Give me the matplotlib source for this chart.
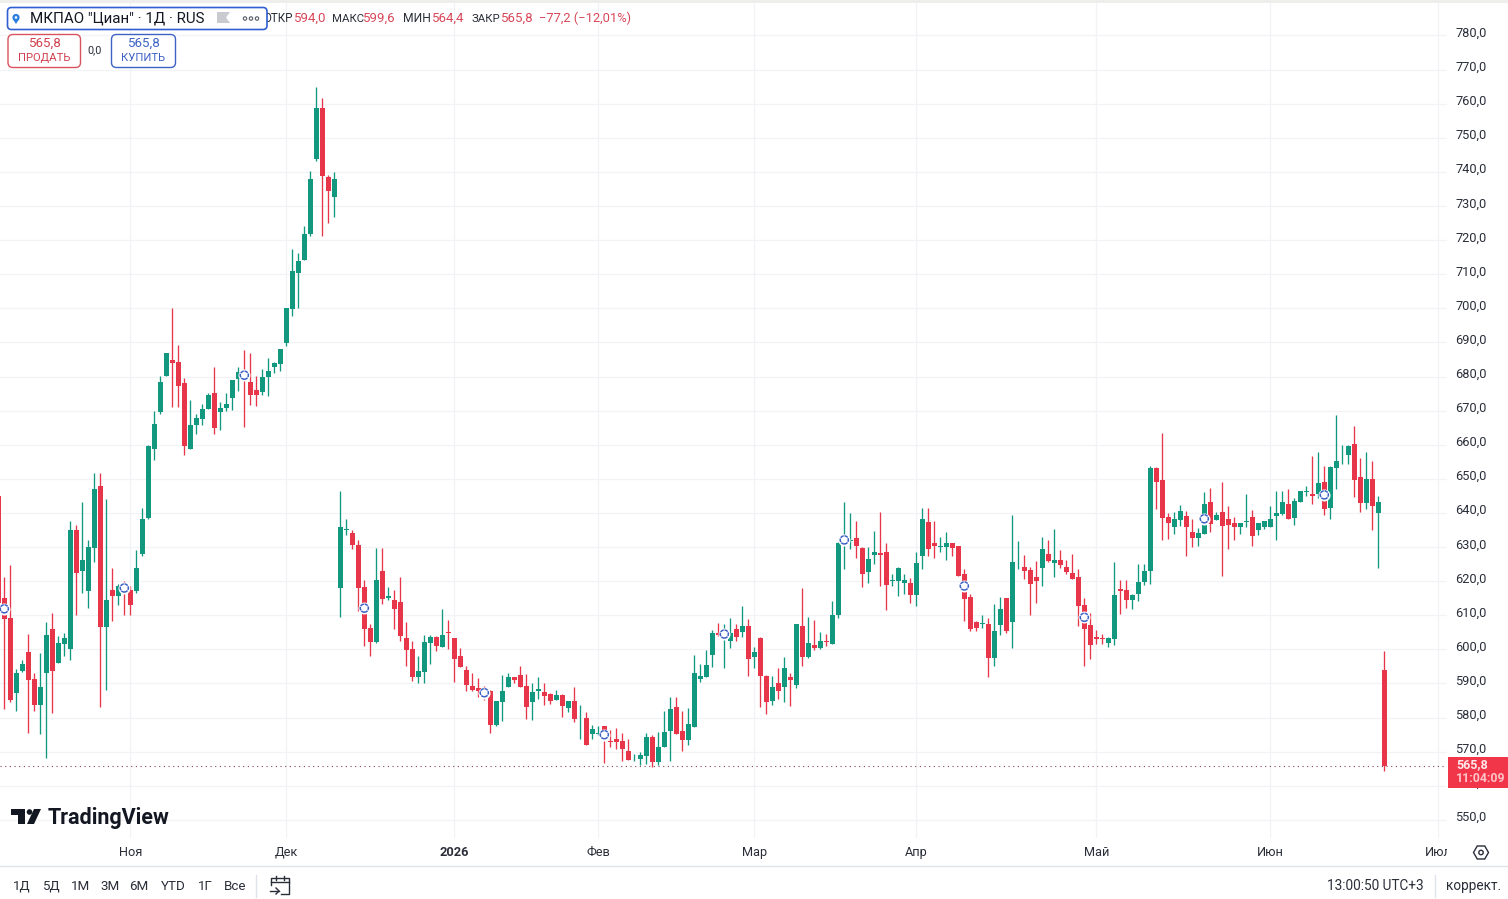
import matplotlib
matplotlib.use("Agg")
import matplotlib.pyplot as plt
from matplotlib.patches import FancyBboxPatch, Rectangle, Polygon, Circle, RegularPolygon
from matplotlib.transforms import ScaledTranslation

plt.rcParams['font.family'] = ['Roboto', 'DejaVu Sans']

# daily candles
opens = [645,615.2,609.1,587.2,593.8,599.1,591.2,583.6,593.2,606.1,
    595.9,601.7,600,634.9,622.9,617,629.6,647.8,606.7,617.3,
    615.8,618.5,617.3,617,628.1,638.4,658.9,669.7,680.2,684.9,
    684.3,678.2,658.8,665.9,667.6,670.5,675.2,669.7,670.8,673.8,
    679.3,680.5,678.5,676.1,675.5,679.9,682.9,683.7,689.9,699.8,
    710.4,714.2,721.8,743.8,758.7,738.5,732.7,618.1,635.1,634.2,
    630.7,618.4,606.4,602.2,623.1,615.1,614.6,614,603.2,600,
    591.8,593.5,602,603.5,600.8,605.2,603.2,598.2,594.1,589.4,
    588.8,587.5,587.9,577.7,584.7,589.1,592,592.6,589.4,584.7,
    587.7,587.4,586.8,585.3,586.5,582.7,585,579.8,580,575.1,
    575.2,577.4,573.1,573.7,573.1,570.1,567.8,567.8,568.7,574.2,
    566.9,571.3,576,583,576,573.4,577.2,591.2,591.8,598.5,
    604.9,604,602.6,606.1,605.2,607,597.9,603.4,592.3,584.8,
    590,589.1,592,589.7,607,597.8,601.4,600.4,602.6,601.7,
    610,631.6,631.9,632.6,629.7,622.6,627.6,628.2,628.5,620.1,
    620,619.4,619.4,615.9,627.3,637.3,631.1,630,630,631.1,
    630.2,622.2,615.3,608,607.5,607.4,597.5,607.1,615,608,
    625.5,624.1,623.2,621.2,623.8,627.9,625.3,626.1,624.1,622.3,
    621.2,613,607.1,603.6,603.4,601.9,603,617.7,617.4,614.4,
    616.2,619.7,622.9,653.1,649.8,638.7,635.8,637.8,639,634.3,
    632.8,633.7,643.1,637.8,640.2,638.1,637.2,635.8,637.3,638.7,
    634.9,635.8,635.8,639,639.6,642.5,638.4,643.1,646.1,645.7,
    645.7,649,641.6,653.1,657.8,656.9,660.1,650.4,642.8,650.1,
    639.9,594]
highs = [645,621.1,624.6,594.3,597,604.4,593.1,598.8,607.9,610.8,
    604,604.7,637.5,636.6,643.1,632.2,651.6,651.6,644,624,
    619.3,620.1,618.7,629,641.6,660,670,680.2,687,700.1,
    689.3,679.6,673.2,669,672,675.2,682.9,672.6,675.2,679,
    682.9,687.8,687,680.2,682.3,685.5,684.3,688.1,700.1,717.4,
    716.3,724.2,740.3,764.9,761.7,739.1,740,646.5,638.3,635,
    632.1,620.2,607.5,629.8,629.8,618.3,617.5,621.1,607.9,602.6,
    598.2,604.1,604.1,603.8,611.7,608.7,603.2,600.5,595,593.2,
    591.5,589.4,588.2,585,592.6,593.2,592,595,592.9,590,
    591.8,590,587.1,588,586.8,585,589.1,583.6,581.5,577.7,
    577.4,577.4,576.3,576.9,575.4,573.7,569.3,569.9,575.4,574.8,
    575.7,581.8,585.9,585.9,581.8,582.7,598.5,595.6,599.9,605.8,
    607.8,607.5,609.3,607.5,612.8,609,600.8,603.7,592.6,592.3,
    594.4,597.9,593.2,607.5,618,609.6,608.7,605.2,604.6,614.3,
    631.4,643.1,639.9,637.6,630,630,634.6,640.2,631.1,622,
    624.1,622,620.9,628.5,641.4,641.4,637.6,632.9,634.3,631.1,
    630.2,623.5,616.2,608.3,610,609.2,613.3,615.3,615,639.3,
    631.7,627.6,624.1,625.9,632.9,632,635.2,629.1,626.1,627.9,
    623.5,615,610.6,605.7,604.5,603.6,625.6,620.3,620.3,616.2,
    625,625,653.9,653.4,663.3,639.9,640.4,642.2,640.7,638.1,
    635.5,646,647.2,640.2,649.2,641.9,638.7,637.2,645.7,641,
    637.2,637.5,641.9,646.3,646.3,646.9,644.3,646.3,647.8,656.6,
    657.8,653.9,653.9,668.6,659.8,659.8,665.4,656,658,655.1,
    645.1,599.6]
lows = [613.5,582.5,584.5,581.9,593.3,575.4,581.9,575.2,568.2,581.3,
    595.9,598.2,597,610.2,616.5,612,625.5,583,588,608.2,
    612.9,610.2,610.2,616.5,627.3,638.2,655.6,668.9,680.2,671.2,
    671.2,657,658.8,663.2,665.9,670.5,663.2,664.4,669.8,670.3,
    675.8,665.3,671.7,671.4,674.6,674.4,681.1,681.7,689,697.8,
    700.1,714.2,721.2,743.2,721.2,725,726.8,609.4,633.4,629.3,
    611.2,601.1,598.2,602,613.4,614.5,606.1,602.6,595,590.6,
    590,590,595.6,599.4,600.8,600,590.3,594.7,587.9,587.9,
    586,585.3,575.6,577.4,578.9,589.1,590,589.1,579.7,579.2,
    585.6,583.8,584.1,585.3,580.3,581.5,578.6,573.6,572.1,573.6,
    574.8,566.7,571.3,570.7,567.2,567.5,567.2,566.1,566.3,565.5,
    566.1,571.3,567.2,575.1,570.1,571.9,577.2,590.3,591.8,594.7,
    603.8,594.4,600.5,602.6,603.7,592.3,594.4,583,581,583.6,
    585.6,584.5,583.3,588.8,595,597.6,599.9,600.2,601,601.7,
    609.2,623.5,629.4,626.7,618.2,619.4,625,618.5,611.5,618.5,
    615.6,616.2,613.6,612.7,623.5,627.3,626.7,628.5,626.1,627.3,
    621.5,608.3,605.4,605.4,606.2,591.9,595.1,604.2,604.8,600.4,
    623.5,620.6,610,613.6,618.5,625.6,621.2,623.8,622,620.6,
    606.8,595.1,597.2,601.6,601.6,600.7,601.3,610.3,612.1,611.8,
    614.1,618.8,619.3,641.3,632.2,632.5,633.7,636.1,627.3,629.9,
    630.2,633.7,634.3,637.8,621.4,629.3,632.2,633.7,636,630.2,
    633.4,635.2,635.8,632.2,639.3,638.1,636.6,643.1,645,642.5,
    644.3,639.3,638.1,646.9,654.5,654.5,644.6,640.4,641.3,634.9,
    624,564.4]
closes = [613.5,608.8,585.3,593.2,595.6,591,583.6,589.1,604.1,593.8,
    602,603.2,634.9,622.3,626.1,629.9,646.9,606.7,614.6,615.8,
    618.7,617.5,612.9,624,638.1,659.5,666.2,678.5,686.8,684,
    677.3,659.7,665.9,667.9,670.5,674.6,665,670.8,672,679,
    681.4,679.8,674.6,674.6,679.9,681.7,684,688.1,700.1,711,
    713.9,721.8,737.9,758.7,738.8,734.4,737.9,636,635.3,630.7,
    618.1,606.1,602.3,620.2,614.9,615.8,611.7,603.8,599.7,591.8,
    593.8,602.3,603.5,601.1,604.1,604.9,597.3,594.7,589.7,588.2,
    587.7,586.7,577.7,585,587.7,592,590.9,589.1,583,587.4,
    588.5,586.2,585,586.5,583.3,585,579.5,580,572.1,576.6,
    575.4,573,572.9,572.8,570.7,567.5,568,569,574.2,566.9,
    571.3,575.7,582.4,575.1,573.4,578,593.2,592.3,595.3,604.9,
    604.3,604.8,604.9,603.7,607,597.3,599.1,592.1,584.5,589.1,
    587.7,594.4,590.9,607.5,597.9,602,600.4,602.6,602.3,610.2,
    631.1,632.4,632.1,630.2,622,626.4,628.5,627.8,618.8,620.3,
    623.8,620.3,615.9,625.3,638.1,629.4,630.2,630.2,631.1,629.7,
    621.5,614.7,606,606.2,607.7,597.5,605.4,611.8,605.4,625.6,
    625.7,622.9,619.1,620,629.4,625.9,626.1,624.7,622.6,620.6,
    612.7,606,601.3,603,603,603.3,615.9,617.1,614.4,615.9,
    619.7,622.9,653.1,649.2,638.4,637.2,638.1,640.7,635.8,632.8,
    634,642.5,636.9,639.3,636.3,636.6,635.8,637.2,637.5,633.1,
    637.2,637.5,638.1,639.9,643.1,638.1,643.4,646.3,646.3,645.1,
    648.7,641.3,653.4,655.1,658,659.5,649.8,642.8,650.1,641.9,
    643.1,565.8]

# little circles on the session marks
mark_idx = [1, 21, 41, 61, 81, 101, 121, 141, 161, 181, 201, 221]
mark_price = [611.9, 618, 680.4, 612.1, 587.3, 575, 604.5, 632.1, 618.6, 609.4, 638.3, 645.3]

month_idx = [22, 48, 76, 100, 126, 153, 183, 212, 240]
month_labels = ['Ноя', 'Дек', '2026', 'Фев', 'Мар', 'Апр', 'Май', 'Июн', 'Июл']
price_ticks = list(range(550, 790, 10))
last_price = 565.8

GREEN = '#12987e'
RED = '#e7364a'
BLUE = '#3d62c4'
TXT = '#2a2e39'

fig = plt.figure(figsize=(15.08, 8.99), dpi=100, facecolor='white')
ax = fig.add_axes([0, 61 / 899, 1447 / 1508, 838 / 899])

idx = list(range(len(opens)))
cols = [GREEN if c >= o else RED for o, c in zip(opens, closes)]
bott = [min(o, c) for o, c in zip(opens, closes)]
hgts = [abs(c - o) for o, c in zip(opens, closes)]

ax.vlines(idx, lows, highs, colors=cols, linewidth=0.95, zorder=3)
ax.bar(idx, hgts, bottom=bott, width=0.84, color=cols, linewidth=0, zorder=4)
ax.scatter(mark_idx, mark_price, s=75, c='white', linewidths=0, zorder=5)
ax.scatter(mark_idx, mark_price, s=34, facecolors='white', edgecolors=BLUE,
           linewidths=1.1, linestyle=(0, (2.4, 0.5)), zorder=6)
ax.axhline(last_price, color='#84434f', lw=0.8, ls=(0, (1, 3.2)), zorder=2)

ax.set_xlim(0.283, 241.45)
ax.set_ylim(544.7, 790.4)
ax.set_xticks(month_idx, month_labels)
ax.set_yticks(price_ticks, [str(p) + ',0' for p in price_ticks])
ax.yaxis.tick_right()
ax.tick_params(axis='both', length=0, labelsize=9.2, labelcolor=TXT)
ax.tick_params(axis='x', pad=5.5)
ax.tick_params(axis='y', pad=6)
nudge = ScaledTranslation(0, 2.2 / 100, fig.dpi_scale_trans)
for lab in ax.get_yticklabels():
    lab.set_verticalalignment('center')
    lab.set_transform(lab.get_transform() + nudge)
for lab in ax.get_xticklabels():
    if lab.get_text() == '2026':
        lab.set_fontweight('bold')
ax.grid(True, color='#f1f3f7', lw=0.9)
ax.set_axisbelow(True)
for s in ax.spines.values():
    s.set_visible(False)

# everything around the plot, in image pixels
ov = fig.add_axes([0, 0, 1, 1])
ov.set_xlim(0, 1508)
ov.set_ylim(899, 0)
ov.axis('off')
ov.patch.set_alpha(0)


def label(x, y, s, size=9, color=TXT, ha='left', **kw):
    ov.text(x, y, s, fontsize=size, color=color, ha=ha, va='center', **kw)


def box(x0, y0, x1, y1, edge, rad=5, face='white', lw=1.0, z=3):
    ov.add_patch(FancyBboxPatch((x0, y0), x1 - x0, y1 - y0,
                                boxstyle='round,pad=0,rounding_size=%d' % rad,
                                fc=face, ec=edge, lw=lw, zorder=z))


ov.add_patch(Rectangle((0, 0), 1508, 2.5, fc='#eeeeec', ec='none'))
# time axis stops at the price scale, so the last month is cut off
ov.add_patch(Rectangle((1447, 840), 61, 24, fc='white', ec='none', zorder=2))

# legend row
label(293, 18.5, 'ОТКР', size=8.4, ha='right')
box(7.5, 7.5, 267, 29.5, '#2f5fd0', rad=4, lw=1.2, z=4)
ov.add_patch(Circle((16, 17.5), 3.6, fc='#2a7de1', ec='none', zorder=5))
ov.add_patch(Polygon([[12.8, 19], [19.2, 19], [16, 24]], fc='#2a7de1', ec='none', zorder=5))
ov.add_patch(Circle((16, 17.5), 1.3, fc='white', ec='none', zorder=6))
ov.text(30, 18.5, 'МКПАО "Циан" · 1Д · RUS', fontsize=10.9, color='#131722',
        va='center', zorder=5)
ov.add_patch(Polygon([[217, 12], [230, 12], [226, 17.5], [230, 23], [217, 23]],
                     fc='#c9cbd1', ec='none', zorder=5))
for cx in [245, 251, 257]:
    ov.add_patch(Circle((cx, 18.5), 1.7, fc='white', ec='#555a66', lw=0.8, zorder=5))

label(294, 18.5, '594,0', size=9.5, color='#d9485a')
label(332, 18.5, 'МАКС', size=8.2)
label(362.5, 18.5, '599,6', size=9.5, color='#d9485a')
label(403, 18.5, 'МИН', size=8.7)
label(431.5, 18.5, '564,4', size=9.5, color='#d9485a')
label(472, 18.5, 'ЗАКР', size=8.2)
label(500.5, 18.5, '565,8', size=9.5, color='#d9485a')
label(539, 18.5, '−77,2 (−12,01%)', size=9.3, color='#d9485a')

# trade buttons
box(8, 34.5, 80.5, 67.5, '#d9535f')
label(44, 43.5, '565,8', size=9.6, color='#d2404f', ha='center', zorder=5)
label(44, 58, 'ПРОДАТЬ', size=8.1, color='#d2404f', ha='center', zorder=5)
label(95, 50, '0,0', size=7.8, ha='center')
box(111.5, 34.5, 175.5, 67.5, '#3d62c4')
label(143, 43.5, '565,8', size=9.6, color=BLUE, ha='center', zorder=5)
label(143, 58, 'КУПИТЬ', size=8.1, color=BLUE, ha='center', zorder=5)

# price tag
ov.add_patch(Rectangle((1448, 757), 60, 31, fc='#f2364a', ec='none', zorder=3))
ov.text(1456, 765, '565,8', fontsize=9, color='#ffe9ea', fontweight='bold', va='center', zorder=4)
ov.text(1456, 779, '11:04:09', fontsize=8.8, color='#ffc4c8', fontweight='bold', va='center', zorder=4)

# logo
ov.add_patch(Polygon([[11, 809], [25, 809], [25, 824], [18, 824], [18, 815], [11, 815]],
                     fc='#131722', ec='none'))
ov.add_patch(Circle((29.5, 812), 2.8, fc='#131722', ec='none'))
ov.add_patch(Polygon([[34, 809], [41, 809], [34, 824], [27, 824]], fc='#131722', ec='none'))
ov.text(48, 818, 'TradingView', fontsize=15.5, color='#131722', fontweight='bold', va='center')

# gear on the time axis
ov.add_patch(RegularPolygon((1481, 852.5), 6, radius=7.5, orientation=0.5236,
                            fc='white', ec='#2a2e39', lw=1.0, zorder=3))
ov.add_patch(Circle((1481, 852.5), 2.2, fc='white', ec='#2a2e39', lw=1.0, zorder=3))

# bottom toolbar
ov.plot([0, 1508], [866, 866], color='#e0e3eb', lw=1.0)
ranges = ['1Д', '5Д', '1М', '3М', '6М', 'YTD', '1Г', 'Все']
range_x = [22, 51, 81, 110, 139, 173, 205, 235]
for xx, rr in zip(range_x, ranges):
    label(xx, 886, rr, size=9.6, ha='center')
ov.plot([256, 256], [875, 897], color='#e0e3eb', lw=1.0)
ov.plot([1435, 1435], [875, 897], color='#e0e3eb', lw=1.0)
# calendar icon
ov.plot([271, 271, 289, 289, 281], [885, 878, 878, 894, 894], color='#2a2e39', lw=1.0)
ov.plot([271, 289], [882, 882], color='#2a2e39', lw=1.0)
ov.plot([276, 276], [876, 880], color='#2a2e39', lw=1.0)
ov.plot([284, 284], [876, 880], color='#2a2e39', lw=1.0)
ov.plot([270, 279], [891, 891], color='#2a2e39', lw=1.0)
ov.plot([276, 279, 276], [888, 891, 894], color='#2a2e39', lw=1.0)
label(1327, 886, '13:00:50 UTC+3', size=9.8)
label(1446, 886, 'коррект.', size=9.8)

fig.savefig('out.png', dpi=100)
